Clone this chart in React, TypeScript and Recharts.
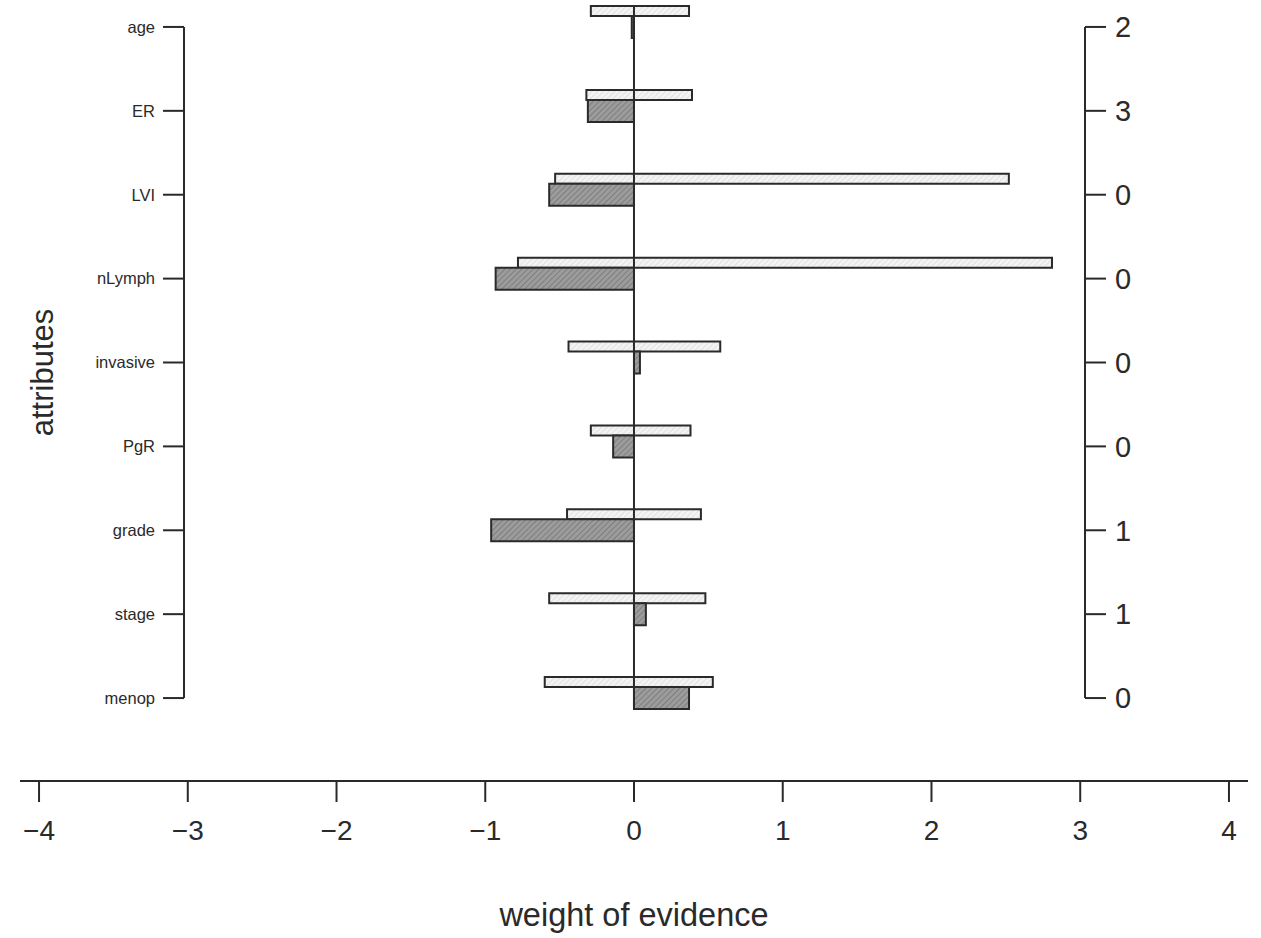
import React from 'react'
import { Bar, BarChart, ComposedChart, Label, ReferenceLine, XAxis, YAxis } from 'recharts'

const attributes = ['age', 'ER', 'LVI', 'nLymph', 'invasive', 'PgR', 'grade', 'stage', 'menop']
const rangeLow = [-0.29, -0.32, -0.53, -0.78, -0.44, -0.29, -0.45, -0.57, -0.6]
const rangeHigh = [0.37, 0.39, 2.52, 2.81, 0.58, 0.38, 0.45, 0.48, 0.53]
const weights = [-0.015, -0.31, -0.57, -0.93, 0.04, -0.14, -0.96, 0.08, 0.37]
const levels = ['2', '3', '0', '0', '0', '0', '1', '1', '0']
const xTicks = [-4, -3, -2, -1, 0, 1, 2, 3, 4]

// bar panel runs from the attribute axis to the level axis, the scale below is wider
const panelDomain = [-3.025, 3.032]
const axisDomain = [-4.128, 4.128]

const rows = attributes.map((a, i) => ({ attr: a, range: [rangeLow[i], rangeHigh[i]], woe: weights[i] }))
const levelOf: Record<string, string> = Object.fromEntries(attributes.map((a, i) => [a, levels[i]]))

const W = 1261
const H = 968
const LIGHT = 10
const DARK = 22
const ink = '#2a2a2a'
const font = '"Liberation Sans", Arial, Helvetica, sans-serif'

const fmtMinus = (v: number) => (v < 0 ? '\u2212' + Math.abs(v) : String(v))

const AttrTitle = (props: any) => {
  const vb = props.viewBox
  const cx = vb.x + 8
  const cy = vb.y + vb.height / 2 + 10
  return (
    <text x={cx} y={cy} transform={`rotate(-90 ${cx} ${cy})`} textAnchor="middle" dominantBaseline="central"
      fontSize={31} fill={ink} fontFamily={font}>attributes</text>
  )
}

// zero line spans from top of first range bar to bottom of last weight bar
const ZeroLine = (p: any) => (
  <line x1={p.x1} x2={p.x2} y1={Math.min(p.y1, p.y2) - LIGHT - DARK / 2} y2={Math.max(p.y1, p.y2) + DARK / 2}
    stroke={ink} strokeWidth={2} />
)

export default function App() {
  const lineStyle = { stroke: ink, strokeWidth: 2 }
  return (
    <div style={{ position: 'absolute', left: 0, top: -30, width: W, height: H, fontFamily: font }}>
      <div style={{ position: 'absolute', left: 0, top: 0 }}>
        <BarChart width={W} height={H} data={rows} layout="vertical" barGap={0}
          margin={{ top: 15, right: 26, bottom: 198, left: 34 }}>
          <defs>
            <pattern id="hatchLight" width="4" height="4" patternUnits="userSpaceOnUse" patternTransform="rotate(45)">
              <rect width="4" height="4" fill="#f3f3f3" />
              <line x1="0" y1="0" x2="0" y2="4" stroke="#dcdcdc" strokeWidth="1.5" />
            </pattern>
            <pattern id="hatchDark" width="4" height="4" patternUnits="userSpaceOnUse" patternTransform="rotate(45)">
              <rect width="4" height="4" fill="#9c9c9c" />
              <line x1="0" y1="0" x2="0" y2="4" stroke="#747474" strokeWidth="1.5" />
            </pattern>
          </defs>
          <XAxis type="number" domain={panelDomain} hide allowDataOverflow />
          <YAxis yAxisId="left" type="category" dataKey="attr" width={150} axisLine={false} interval={0}
            tickSize={21} tickMargin={8} tickLine={lineStyle}
            tick={{ fontSize: 16.5, fill: ink, fontFamily: font }}>
            <Label content={AttrTitle} />
          </YAxis>
          <YAxis yAxisId="right" orientation="right" type="category" dataKey="attr" width={150} axisLine={false}
            interval={0} tickSize={21} tickMargin={9} tickLine={lineStyle} tickFormatter={(v: string) => levelOf[v]}
            tick={{ fontSize: 29, fill: ink, fontFamily: font, textAnchor: 'start' }} />
          <Bar yAxisId="left" dataKey="range" barSize={LIGHT} fill="url(#hatchLight)" stroke={ink} strokeWidth={2}
            isAnimationActive={false} />
          <Bar yAxisId="left" dataKey="woe" barSize={DARK} fill="url(#hatchDark)" stroke={ink} strokeWidth={2}
            isAnimationActive={false} />
          <Bar yAxisId="left" dataKey={() => null} barSize={LIGHT} fill="none" isAnimationActive={false} />
          <ReferenceLine yAxisId="left" segment={[{ x: panelDomain[0], y: attributes[0] }, { x: panelDomain[0], y: attributes[8] }]}
            stroke={ink} strokeWidth={2} />
          <ReferenceLine yAxisId="left" segment={[{ x: panelDomain[1], y: attributes[0] }, { x: panelDomain[1], y: attributes[8] }]}
            stroke={ink} strokeWidth={2} />
          <ReferenceLine yAxisId="left" segment={[{ x: 0, y: attributes[0] }, { x: 0, y: attributes[8] }]}
            shape={ZeroLine} />
        </BarChart>
      </div>
      <div style={{ position: 'absolute', left: 0, top: 0, pointerEvents: 'none' }}>
        <ComposedChart width={W} height={H} data={rows} layout="vertical"
          margin={{ top: 15, right: 13, bottom: 57, left: 20 }}>
          <XAxis type="number" domain={axisDomain} ticks={xTicks} interval={0} allowDataOverflow height={100}
            tickSize={21} tickMargin={18} tickFormatter={fmtMinus} axisLine={lineStyle} tickLine={lineStyle}
            tick={{ fontSize: 28, fill: ink, fontFamily: font }}
            label={{ value: 'weight of evidence', position: 'bottom', offset: 22, fontSize: 32.5, fill: ink, fontFamily: font }} />
          <YAxis type="category" dataKey="attr" hide />
        </ComposedChart>
      </div>
    </div>
  )
}
